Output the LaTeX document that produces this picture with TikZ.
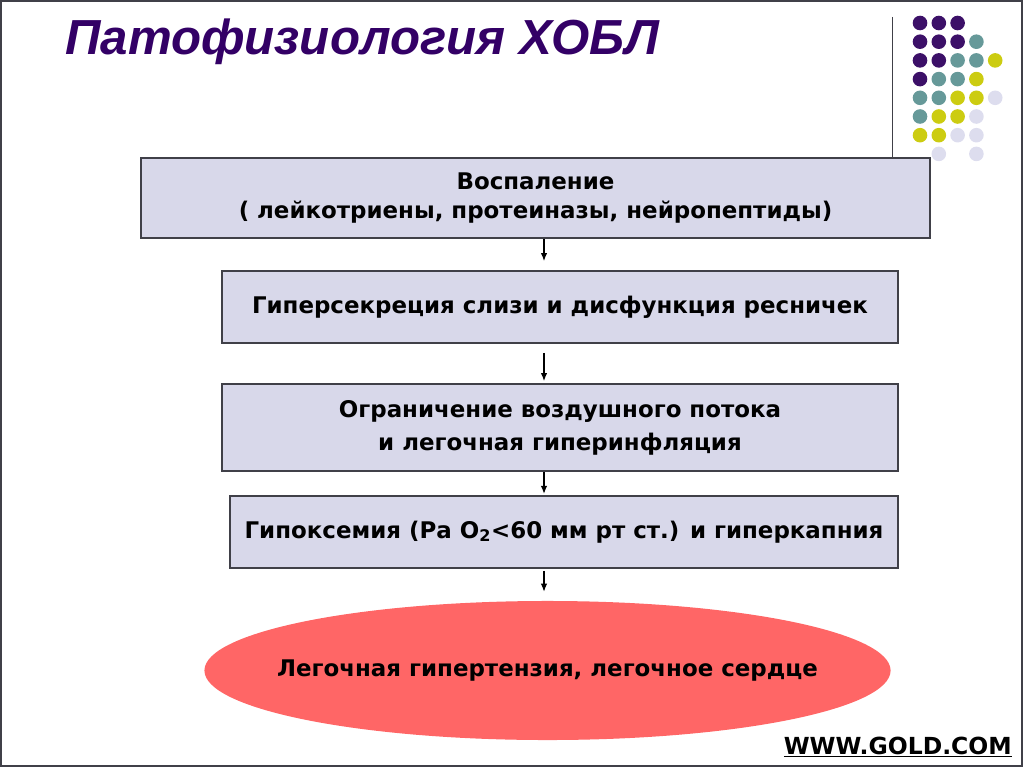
\documentclass[tikz,border=0pt]{standalone}
\usepackage{fontspec}
\setmainfont{DejaVu Sans}
\newfontfamily\titlefont{Liberation Sans}
\usetikzlibrary{arrows.meta,shapes.geometric}
\definecolor{titlepurple}{RGB}{51,0,102}
\definecolor{dotpurple}{RGB}{60,16,104}
\definecolor{dotteal}{RGB}{102,153,153}
\definecolor{dotyellow}{RGB}{204,204,17}
\definecolor{dotlilac}{RGB}{221,221,238}
\definecolor{boxfill}{RGB}{216,216,234}
\definecolor{boxedge}{RGB}{64,64,72}
\definecolor{ovalfill}{RGB}{255,102,102}
\tikzstyle{stage}=[draw=boxedge, line width=1.3pt, fill=boxfill, align=center,
  inner sep=0pt, font=\fontsize{16.3}{20}\selectfont\bfseries]
\tikzstyle{outcome}=[ellipse, fill=ovalfill, inner xsep=-3cm, inner ysep=0pt,
  align=center, font=\fontsize{16.3}{20}\selectfont\bfseries]
\tikzstyle{line}=[draw, line width=0.8pt, color=black,
  -{Latex[length=2mm,width=1.6mm]}]
\newcommand{\dotrow}[3]{%
  \foreach \c in {#2} \fill[#3] (920+18.8*\c, 23+18.7*#1) circle (7.3);}

\begin{document}
\begin{tikzpicture}[x=0.025cm, y=-0.025cm]
  \useasboundingbox (0,0) rectangle (1024,768);

  % Slide frame and template decoration
  \draw[boxedge, line width=1.5pt] (1,1) rectangle (1022,766);
  \draw[boxedge, line width=0.6pt] (892,17) -- (892,157);
  \dotrow{0}{0,1,2}{dotpurple}
  \dotrow{1}{0,1,2}{dotpurple}  \dotrow{1}{3}{dotteal}
  \dotrow{2}{0,1}{dotpurple}    \dotrow{2}{2,3}{dotteal}  \dotrow{2}{4}{dotyellow}
  \dotrow{3}{0}{dotpurple}      \dotrow{3}{1,2}{dotteal}  \dotrow{3}{3}{dotyellow}
  \dotrow{4}{0,1}{dotteal}      \dotrow{4}{2,3}{dotyellow} \dotrow{4}{4}{dotlilac}
  \dotrow{5}{0}{dotteal}        \dotrow{5}{1,2}{dotyellow} \dotrow{5}{3}{dotlilac}
  \dotrow{6}{0,1}{dotyellow}    \dotrow{6}{2,3}{dotlilac}
  \dotrow{7}{1,3}{dotlilac}

  % Title
  \node (title) [anchor=base west, inner sep=0pt, text=titlepurple,
    font=\titlefont\fontsize{35}{40}\selectfont\bfseries\itshape]
    at (65,55) {Патофизиология ХОБЛ};

  % Draw diagram elements
  \node (p1) [stage, minimum width=19.725cm, minimum height=2cm] at (535.5,198)
    {Воспаление\\( лейкотриены, протеиназы, нейропептиды)};
  \node (p2) [stage, minimum width=16.9cm, minimum height=1.8cm] at (560,307)
    {Гиперсекреция слизи и дисфункция ресничек};
  \node (p3) [stage, minimum width=16.9cm, minimum height=2.175cm,
    font=\fontsize{16.3}{23.5}\selectfont\bfseries] at (560,427.5)
    {Ограничение воздушного потока\\и легочная гиперинфляция};
  \node (p4) [stage, minimum width=16.7cm, minimum height=1.8cm] at (564,532)
    {Гипоксемия (Ра O\textsubscript{2}<60 мм рт ст.) и гиперкапния};
  \node (p5) [outcome, minimum width=17.15cm, minimum height=3.475cm] at (547.5,670.5)
    {Легочная гипертензия, легочное сердце};

  % Draw arrows between elements
  \coordinate (ax) at (544,0);
  \path [line, shorten >=0.225cm] (ax |- p1.south) -- (ax |- p2.north);
  \path [line, shorten <=0.225cm, shorten >=0.05cm] (ax |- p2.south) -- (ax |- p3.north);
  \path [line, shorten >=0.03cm] (ax |- p3.south) -- (ax |- p4.north);
  \path [line, shorten <=0.05cm, shorten >=0.225cm] (ax |- p4.south) -- (ax |- p5.north);

  % Source
  \node (src) [anchor=base east, inner sep=0pt, font=\fontsize{16.7}{20}\selectfont\bfseries]
    at (1012,754) {\underline{WWW.GOLD.COM}};
\end{tikzpicture}
\end{document}
